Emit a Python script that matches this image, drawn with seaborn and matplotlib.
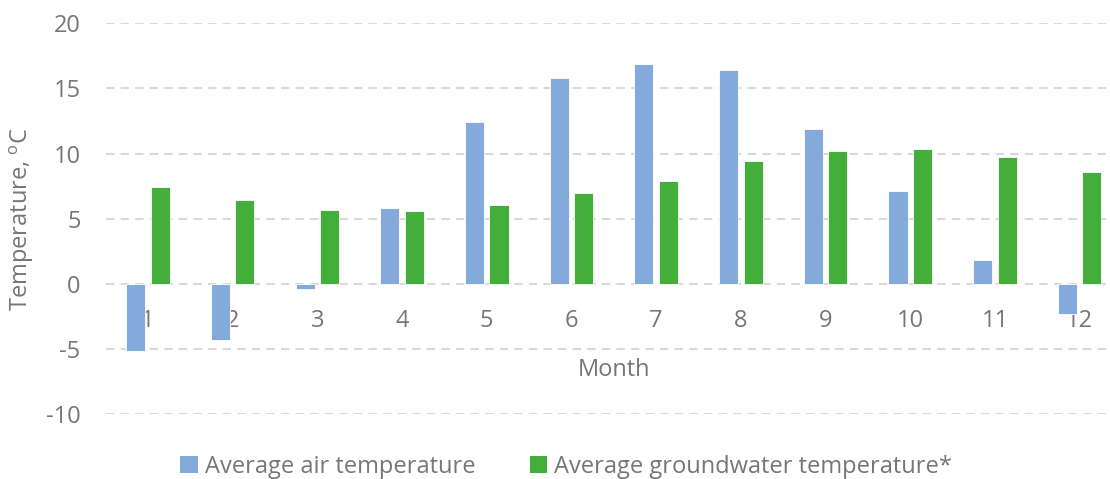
import matplotlib
matplotlib.use("Agg")
import matplotlib.pyplot as plt
import seaborn as sns
import pandas as pd
from matplotlib.patches import Patch

months = [1, 2, 3, 4, 5, 6, 7, 8, 9, 10, 11, 12]
air_temp = [-5.2, -4.3, -0.4, 5.8, 12.4, 15.8, 16.9, 16.4, 11.9, 7.1, 1.8, -2.3]
ground_temp = [7.4, 6.4, 5.7, 5.55, 6.05, 7.0, 7.9, 9.4, 10.2, 10.35, 9.7, 8.55]
series_names = ["Average air temperature", "Average groundwater temperature*"]
colors = ["#84AADC", "#44AE3B"]
yticks = [-10, -5, 0, 5, 10, 15, 20]

df = pd.DataFrame({
    "Month": [str(m) for m in months] * 2,
    "Temperature": air_temp + ground_temp,
    "Series": [series_names[0]] * 12 + [series_names[1]] * 12,
})

sns.set_theme(style="white")
plt.rcParams['font.family'] = ['Open Sans', 'DejaVu Sans']
txt = "#767676"

fig = plt.figure(figsize=(11.10, 4.79), dpi=100)
ax = fig.add_axes([105.6 / 1110, 1 - 414 / 479, (1122 - 105.6) / 1110, (414 - 23.3) / 479])

sns.barplot(data=df, x="Month", y="Temperature", hue="Series",
            palette=colors, width=0.578, gap=0.22, ax=ax, legend=False,
            saturation=1, linewidth=0.6, edgecolor="white")

ax.set_ylim(-10, 20)
ax.set_yticks(yticks)
ax.set_yticklabels([str(v) for v in yticks])
ax.set_xlim(-0.5, 11.5)
for y in yticks:
    ax.axhline(y, color="#D9D9D9", lw=1.5, ls=(0, (4, 3)), zorder=0)
for s in ax.spines.values():
    s.set_visible(False)
ax.spines['bottom'].set_position(('data', 0))
ax.tick_params(axis='x', length=0, pad=18, labelsize=17, labelcolor=txt)
ax.tick_params(axis='y', length=0, pad=18, labelsize=17, labelcolor=txt)
ax.set_xlabel("Month", fontsize=17, color=txt)
ax.xaxis.set_label_coords((614 - 105.6) / (1122 - 105.6), (414 - 370) / (414 - 23.3))
ax.xaxis.label.set_va('center')
ax.set_ylabel("Temperature, $^\\mathregular{o}$C", fontsize=17, color=txt)
ax.yaxis.set_label_coords((22 - 105.6) / (1122 - 105.6), 0.5)
ax.yaxis.label.set_va('center')
ax.grid(False)

handles = [Patch(facecolor=c, edgecolor='none') for c in colors]
fig.legend(handles, series_names, loc='center', bbox_to_anchor=(566 / 1110, 1 - 467 / 479),
           ncol=2, frameon=False, fontsize=17, labelcolor=txt, handlelength=0.75,
           handleheight=0.75, handletextpad=0.3, columnspacing=2.3)

fig.savefig("out.png", dpi=100)
